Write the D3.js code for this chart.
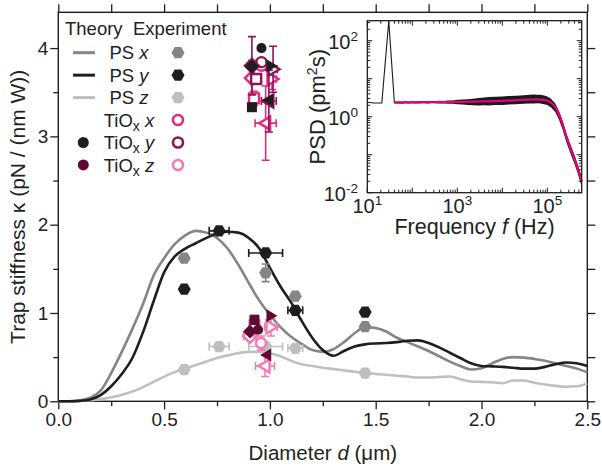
<!DOCTYPE html>
<html>
<head>
<meta charset="utf-8">
<script src="https://cdn.jsdelivr.net/npm/d3@7"></script>
<style>
  body { margin: 0; background: #fff; }
  svg { display: block; font-family: "Liberation Sans", Arial, Helvetica, sans-serif; }
</style>
</head>
<body>
<svg id="chart" width="602" height="468"></svg>
<script>
// ---- theory curves (trap stiffness vs. diameter) ----
const theoryD = [0, 0.05, 0.1, 0.15, 0.2, 0.25, 0.3, 0.35, 0.4, 0.45, 0.5, 0.55, 0.6, 0.65, 0.7, 0.75, 0.8, 0.85, 0.9, 0.95,
  1.0, 1.05, 1.1, 1.15, 1.2, 1.25, 1.3, 1.35, 1.4, 1.45, 1.5, 1.55, 1.6, 1.65, 1.7, 1.75, 1.8, 1.85, 1.9, 1.95,
  2.0, 2.05, 2.1, 2.15, 2.2, 2.25, 2.3, 2.35, 2.4, 2.45, 2.5]
const psX = [0, 0, 0.01, 0.04, 0.12, 0.32, 0.56, 0.82, 1.10, 1.42, 1.62, 1.78, 1.88, 1.93, 1.91, 1.85, 1.73, 1.55, 1.34, 1.14,
  0.98, 0.84, 0.73, 0.65, 0.58, 0.56, 0.59, 0.67, 0.77, 0.84, 0.83, 0.79, 0.72, 0.67, 0.62, 0.57, 0.51, 0.45, 0.40, 0.36,
  0.375, 0.43, 0.48, 0.50, 0.495, 0.48, 0.46, 0.43, 0.40, 0.37, 0.33]
const psY = [0, 0, 0.005, 0.02, 0.07, 0.17, 0.31, 0.49, 0.78, 1.13, 1.46, 1.64, 1.73, 1.79, 1.85, 1.90, 1.92, 1.91, 1.85, 1.73,
  1.51, 1.30, 1.12, 0.91, 0.72, 0.58, 0.515, 0.57, 0.62, 0.645, 0.655, 0.66, 0.67, 0.685, 0.69, 0.66, 0.61, 0.55, 0.49, 0.43,
  0.40, 0.395, 0.39, 0.38, 0.37, 0.37, 0.39, 0.42, 0.44, 0.43, 0.40]
const psZ = [0, 0, 0.005, 0.012, 0.025, 0.045, 0.075, 0.11, 0.16, 0.22, 0.28, 0.33, 0.37, 0.41, 0.45, 0.49, 0.52, 0.545, 0.56, 0.56,
  0.545, 0.51, 0.46, 0.42, 0.40, 0.38, 0.365, 0.35, 0.335, 0.325, 0.31, 0.30, 0.29, 0.28, 0.27, 0.27, 0.275, 0.28, 0.25, 0.225,
  0.22, 0.215, 0.205, 0.235, 0.235, 0.21, 0.19, 0.175, 0.165, 0.17, 0.20]

// ---- PS experiments ----
const psExpD = [0.595, 0.76, 0.98, 1.12, 1.45]
const psExpX = [1.62, null, 1.455, 1.19, 0.845]
const psExpY = [1.27, 1.93, 1.68, 1.03, 1.01]
const psExpZ = [0.36, 0.62, 0.62, 0.60, 0.32]
const psExpDErr = [0, 0.047, 0.08, 0.035, 0]
const psExpXDErr = [0, 0, 0, 0, 0]
const psExpXKErr = [0, 0, 0.1, 0, 0]

// ---- TiOx particles (one entry per particle shape) ----
const tiShapes = ['circle', 'diamond', 'triR', 'triL', 'square']
const tiYTheoD = [0.96, 0.915, 1.005, 0.995, 0.915]
const tiYTheoK = [4.00, 3.79, 3.80, 3.41, 3.33]
const tiXExpD = [0.96, 0.915, 1.01, 0.98, 0.925]
const tiXExpK = [3.80, 3.66, 3.65, 3.15, 3.43]
const tiXExpDErr = [0, 0.02, 0.02, 0.05, 0.02]
const tiXExpKErr = [0, 0.2, 0.12, 0.42, 0.08]
const tiYExpD = [0.96, 0.915, 1.015, 0.995, 0.935]
const tiYExpK = [3.84, 3.80, 3.76, 3.40, 3.65]
const tiYExpDErr = [0, 0, 0.02, 0.035, 0]
const tiYExpKErr = [0, 0.33, 0.26, 0.35, 0]
const tiZTheoD = [0.944, 0.906, 1.005, 0.985, 0.927]
const tiZTheoK = [0.81, 0.79, 0.97, 0.525, 0.92]
const tiZExpD = [0.958, 0.906, 1.005, 0.977, 0.927]
const tiZExpK = [0.66, 0.74, 0.84, 0.40, 0.86]
const tiZExpDErr = [0, 0.03, 0.03, 0.045, 0.02]
const tiZExpKErr = [0.08, 0.05, 0.1, 0.12, 0.12]

// ---- inset: power spectral density ----
const psdSpikeF = [10, 14, 21, 30, 40]
const psdSpikeP = [2.4, 2.3, 2.3, 330, 2.3]
const psdF = [40, 50, 60, 70, 85, 100, 120, 150, 180, 220, 270, 330, 400, 500, 650, 800, 1000, 1300, 1700, 2200,
  3000, 4000, 5000, 7000, 10000, 14000, 20000, 30000, 40000, 50000, 60000, 70000, 85000, 100000, 120000, 150000,
  180000, 220000, 270000, 330000, 400000, 470000, 550000, 580000]
const psdLo = [2.22, 2.24, 2.20, 2.26, 2.22, 2.26, 2.22, 2.26, 2.28, 2.24, 2.28, 2.25, 2.24, 2.22, 2.20, 2.18, 2.12, 2.08, 2.04, 2.00,
  1.98, 2.00, 1.98, 2.02, 2.04, 2.08, 2.12, 2.18, 2.22, 2.24, 2.25, 2.22, 2.14, 2.02, 1.78, 1.32,
  0.86, 0.45, 0.20, 0.104, 0.058, 0.033, 0.018, 0.0135]
const psdHi = [2.46, 2.52, 2.46, 2.55, 2.48, 2.56, 2.50, 2.57, 2.55, 2.58, 2.60, 2.57, 2.62, 2.60, 2.68, 2.66, 2.78, 2.82, 2.90, 2.98,
  3.10, 3.22, 3.28, 3.36, 3.42, 3.50, 3.56, 3.68, 3.76, 3.82, 3.80, 3.76, 3.62, 3.42, 2.98, 2.22,
  1.44, 0.76, 0.34, 0.176, 0.10, 0.057, 0.032, 0.026]
const fitF = [40, 100, 1000, 10000, 30000, 50000, 70000, 100000, 120000, 150000, 180000, 220000, 270000, 330000, 400000, 470000, 550000, 580000]
const fitP = [2.36, 2.38, 2.45, 2.62, 2.78, 2.84, 2.80, 2.62, 2.35, 1.78, 1.18, 0.62, 0.28, 0.14, 0.078, 0.044, 0.024, 0.02]

// ---- ticks ----
const xMajor = [0, 0.5, 1.0, 1.5, 2.0, 2.5]
const xMinor = [0.25, 0.75, 1.25, 1.75, 2.25]
const xTop = [0, 0.25, 0.5, 0.75, 1.0, 1.25, 1.5, 1.75, 2.0, 2.25, 2.5]
const yMajor = [0, 1, 2, 3, 4]
const yMinor = [0.5, 1.5, 2.5, 3.5]
const yRight = [0, 0.5, 1, 1.5, 2, 2.5, 3, 3.5, 4]
const insetXLabelExp = [1, 3, 5]
const insetYLabelExp = [-2, 0, 2]

const
  cGray = '#858585',
  cBlack = '#1e1e1e',
  cLight = '#bfbfbf',
  cMagenta = '#e8287e',
  cPurple = '#8a1557',
  cPink = '#f27ab1',
  cMaroon = '#5e0934'

const svg = d3.select('#chart')

const x = d3.scaleLinear().domain([0, 2.5]).range([58.3, 587.3])
const y = d3.scaleLinear().domain([0, 4.405]).range([401.3, 12.3])

function styleAxis(g, size) {
  g.select('.domain').remove()
  g.selectAll('line').attr('stroke', cBlack).attr('stroke-width', 1.3)
  g.selectAll('text').attr('font-size', size).attr('fill', '#222')
    .attr('font-family', '"Liberation Sans", Arial, sans-serif')
}

// main axes
svg.append('g').attr('transform', `translate(0,${y(0)})`)
  .call(d3.axisBottom(x).tickValues(xMajor).tickFormat(d3.format('.1f')).tickSize(8).tickPadding(3))
  .call(g => styleAxis(g, 19))
svg.append('g').attr('transform', `translate(0,${y(0)})`)
  .call(d3.axisBottom(x).tickValues(xMinor).tickFormat('').tickSize(5))
  .call(g => styleAxis(g, 19))
svg.append('g').attr('transform', `translate(0,${y.range()[1]})`)
  .call(d3.axisTop(x).tickValues(xTop).tickFormat('').tickSize(8))
  .call(g => styleAxis(g, 19))
svg.append('g').attr('transform', `translate(${x(0)},0)`)
  .call(d3.axisLeft(y).tickValues(yMajor).tickFormat(d3.format('d')).tickSize(8).tickPadding(2))
  .call(g => styleAxis(g, 19))
svg.append('g').attr('transform', `translate(${x(0)},0)`)
  .call(d3.axisLeft(y).tickValues(yMinor).tickFormat('').tickSize(5))
  .call(g => styleAxis(g, 19))
svg.append('g').attr('transform', `translate(${x(2.5)},0)`)
  .call(d3.axisRight(y).tickValues(yRight).tickFormat('').tickSize(8))
  .call(g => styleAxis(g, 19))

svg.append('rect')
  .attr('x', x(0)).attr('y', y.range()[1])
  .attr('width', x(2.5) - x(0)).attr('height', y(0) - y.range()[1])
  .attr('fill', 'none').attr('stroke', cBlack).attr('stroke-width', 1.4)

// axis titles
svg.append('text')
  .attr('x', (x(0) + x(2.5)) / 2).attr('y', 460)
  .attr('text-anchor', 'middle').attr('font-size', 20.5).attr('fill', '#222')
  .call(t => {
    t.append('tspan').text('Diameter ')
    t.append('tspan').attr('font-style', 'italic').text('d')
    t.append('tspan').text(' (\u03bcm)')
  })
svg.append('text')
  .attr('transform', `translate(25,${(y(0) + y.range()[1]) / 2}) rotate(-90)`)
  .attr('text-anchor', 'middle').attr('font-size', 21).attr('fill', '#222')
  .text('Trap stiffness \u03ba (pN / (nm W))')

// theory curves
const line = d3.line()
  .x((d, i) => x(theoryD[i]))
  .y(d => y(d))
  .curve(d3.curveMonotoneX)

;[[psZ, cLight], [psX, cGray], [psY, cBlack]].forEach(([vals, col]) => {
  svg.append('path')
    .attr('d', line(vals))
    .attr('fill', 'none').attr('stroke', col).attr('stroke-width', 2.6)
})

// markers
function hexPath(r) {
  const pts = d3.range(6).map(i => {
    const a = Math.PI / 3 * i
    return [r * Math.cos(a), r * Math.sin(a)]
  })
  return 'M' + pts.map(p => p.join(',')).join('L') + 'Z'
}

function shapePath(shape) {
  switch (shape) {
    case 'diamond': return 'M0,-7L7,0L0,7L-7,0Z'
    case 'triR': return 'M-4.5,-6.5L6.5,0L-4.5,6.5Z'
    case 'triL': return 'M4.5,-6.5L-6.5,0L4.5,6.5Z'
    case 'square': return 'M-5,-5H5V5H-5Z'
    default: return d3.symbol(d3.symbolCircle, 80)()
  }
}

function errorBars(g, cx, cy, dErr, kErr, col) {
  const cap = 4
  if (dErr > 0) {
    const x0 = x(cx - dErr), x1 = x(cx + dErr), yy = y(cy)
    g.append('path')
      .attr('d', `M${x0},${yy}H${x1}M${x0},${yy - cap}V${yy + cap}M${x1},${yy - cap}V${yy + cap}`)
      .attr('stroke', col).attr('stroke-width', 1.6).attr('fill', 'none')
  }
  if (kErr > 0) {
    const y0 = y(cy - kErr), y1 = y(cy + kErr), xx = x(cx)
    g.append('path')
      .attr('d', `M${xx},${y0}V${y1}M${xx - cap},${y0}H${xx + cap}M${xx - cap},${y1}H${xx + cap}`)
      .attr('stroke', col).attr('stroke-width', 1.6).attr('fill', 'none')
  }
}

const marks = svg.append('g')

// PS experiment hexagons
;[[psExpZ, cLight, psExpDErr, null], [psExpX, cGray, psExpXDErr, psExpXKErr], [psExpY, cBlack, psExpDErr, null]]
  .forEach(([vals, col, dErr, kErr]) => {
    vals.forEach((k, i) => {
      if (k === null) return
      errorBars(marks, psExpD[i], k, dErr[i], kErr ? kErr[i] : 0, col)
      marks.append('path')
        .attr('d', hexPath(6.5))
        .attr('transform', `translate(${x(psExpD[i])},${y(k)})`)
        .attr('fill', col)
    })
  })

// TiOx markers
function tiSeries(ds, ks, dErr, kErr, col, filled) {
  ds.forEach((d, i) => {
    if (dErr) errorBars(marks, d, ks[i], dErr[i], kErr[i], col)
    marks.append('path')
      .attr('d', shapePath(tiShapes[i]))
      .attr('transform', `translate(${x(d)},${y(ks[i])})`)
      .attr('fill', filled ? col : '#fff')
      .attr('stroke', filled ? 'none' : col)
      .attr('stroke-width', filled ? 0 : 2.4)
  })
}

tiSeries(tiXExpD, tiXExpK, tiXExpDErr, tiXExpKErr, cMagenta, false)
tiSeries(tiYExpD, tiYExpK, tiYExpDErr, tiYExpKErr, cPurple, false)
tiSeries(tiYTheoD, tiYTheoK, null, null, cBlack, true)
tiSeries(tiZExpD, tiZExpK, tiZExpDErr, tiZExpKErr, cPink, false)
tiSeries(tiZTheoD, tiZTheoK, null, null, cMaroon, true)

// legend
const legend = svg.append('g').attr('font-size', 18.5).attr('fill', '#222')
legend.append('text').attr('x', 65).attr('y', 35).text('Theory')
legend.append('text').attr('x', 133).attr('y', 35).text('Experiment')

const legendRows = [
  { kind: 'PS', axis: 'x', line: cGray, hex: cGray },
  { kind: 'PS', axis: 'y', line: cBlack, hex: cBlack },
  { kind: 'PS', axis: 'z', line: cLight, hex: cLight },
  { kind: 'Ti', axis: 'x', ring: cMagenta },
  { kind: 'Ti', axis: 'y', dot: cBlack, ring: cPurple },
  { kind: 'Ti', axis: 'z', dot: cMaroon, ring: cPink }
]

legendRows.forEach((r, i) => {
  const ry = 52.7 + i * 22.45
  const t = legend.append('text').attr('x', 129).attr('y', ry + 6.6).attr('text-anchor', 'middle')
  if (r.kind === 'PS') {
    t.append('tspan').text('PS ')
  } else {
    t.append('tspan').text('TiO')
    t.append('tspan').attr('font-size', 14).attr('dy', 4).text('x')
    t.append('tspan').attr('dy', -4).text(' ')
  }
  t.append('tspan').attr('font-style', 'italic').text(r.axis)

  if (r.line) {
    legend.append('line').attr('x1', 73).attr('x2', 95).attr('y1', ry).attr('y2', ry)
      .attr('stroke', r.line).attr('stroke-width', 3)
    legend.append('path').attr('d', hexPath(6.5))
      .attr('transform', `translate(178,${ry})`).attr('fill', r.hex)
  }
  if (r.dot) {
    legend.append('circle').attr('cx', 83.3).attr('cy', ry).attr('r', 5.5).attr('fill', r.dot)
  }
  if (r.ring) {
    legend.append('circle').attr('cx', 178).attr('cy', ry).attr('r', 5)
      .attr('fill', '#fff').attr('stroke', r.ring).attr('stroke-width', 2.6)
  }
})

// ---- inset ----
const ix = d3.scaleLog().domain([10, 5.8e5]).range([367.3, 581.7])
const iy = d3.scaleLog().domain([0.01, 336]).range([192.7, 20.7])
const inset = svg.append('g')

inset.append('rect')
  .attr('x', ix.range()[0]).attr('y', iy.range()[1])
  .attr('width', ix.range()[1] - ix.range()[0]).attr('height', iy.range()[0] - iy.range()[1])
  .attr('fill', '#fff')

const isDecade = v => Math.abs(Math.log10(v) - Math.round(Math.log10(v))) < 1e-6

ix.ticks().forEach(v => {
  const len = isDecade(v) ? 5 : 3
  const xx = ix(v)
  inset.append('path')
    .attr('d', `M${xx},${iy.range()[0]}v${-len}M${xx},${iy.range()[1]}v${len}`)
    .attr('stroke', cBlack).attr('stroke-width', 1)
})
iy.ticks().forEach(v => {
  const len = isDecade(v) ? 5 : 3
  const yy = iy(v)
  inset.append('path')
    .attr('d', `M${ix.range()[0]},${yy}h${len}M${ix.range()[1]},${yy}h${-len}`)
    .attr('stroke', cBlack).attr('stroke-width', 1)
})

// spectrum
inset.append('path')
  .attr('d', d3.area()
    .x((f, i) => ix(f))
    .y0((f, i) => iy(psdLo[i]))
    .y1((f, i) => iy(psdHi[i]))(psdF))
  .attr('fill', '#1a1a1a')
inset.append('path')
  .attr('d', d3.line().x((f, i) => ix(f)).y((f, i) => iy(psdSpikeP[i]))(psdSpikeF))
  .attr('fill', 'none').attr('stroke', '#1a1a1a').attr('stroke-width', 1.1)
inset.append('path')
  .attr('d', d3.line().x((f, i) => ix(f)).y((f, i) => iy(fitP[i])).curve(d3.curveMonotoneX)(fitF))
  .attr('fill', 'none').attr('stroke', '#e6007e').attr('stroke-width', 2.2)

inset.append('rect')
  .attr('x', ix.range()[0]).attr('y', iy.range()[1])
  .attr('width', ix.range()[1] - ix.range()[0]).attr('height', iy.range()[0] - iy.range()[1])
  .attr('fill', 'none').attr('stroke', cBlack).attr('stroke-width', 1.3)

// inset tick labels
insetXLabelExp.forEach(e => {
  const t = inset.append('text')
    .attr('x', ix(Math.pow(10, e))).attr('y', 213)
    .attr('text-anchor', 'middle').attr('font-size', 20).attr('fill', '#222')
  t.append('tspan').text('10')
  t.append('tspan').attr('font-size', 13.5).attr('dy', -8).text(String(e))
})
insetYLabelExp.forEach(e => {
  const t = inset.append('text')
    .attr('x', 358).attr('y', iy(Math.pow(10, e)) + 8)
    .attr('text-anchor', 'end').attr('font-size', 20).attr('fill', '#222')
  t.append('tspan').text('10')
  t.append('tspan').attr('font-size', 13.5).attr('dy', -8).text(e < 0 ? '-' + Math.abs(e) : String(e))
})

inset.append('text')
  .attr('x', (ix.range()[0] + ix.range()[1]) / 2).attr('y', 234)
  .attr('text-anchor', 'middle').attr('font-size', 21.5).attr('fill', '#222')
  .call(t => {
    t.append('tspan').text('Frequency ')
    t.append('tspan').attr('font-style', 'italic').text('f')
    t.append('tspan').text(' (Hz)')
  })
inset.append('text')
  .attr('transform', `translate(325,${(iy.range()[0] + iy.range()[1]) / 2}) rotate(-90)`)
  .attr('text-anchor', 'middle').attr('font-size', 22).attr('fill', '#222')
  .call(t => {
    t.append('tspan').text('PSD (pm')
    t.append('tspan').attr('font-size', 14).attr('dy', -8).text('2')
    t.append('tspan').attr('dy', 8).text('s)')
  })
</script>
</body>
</html>
